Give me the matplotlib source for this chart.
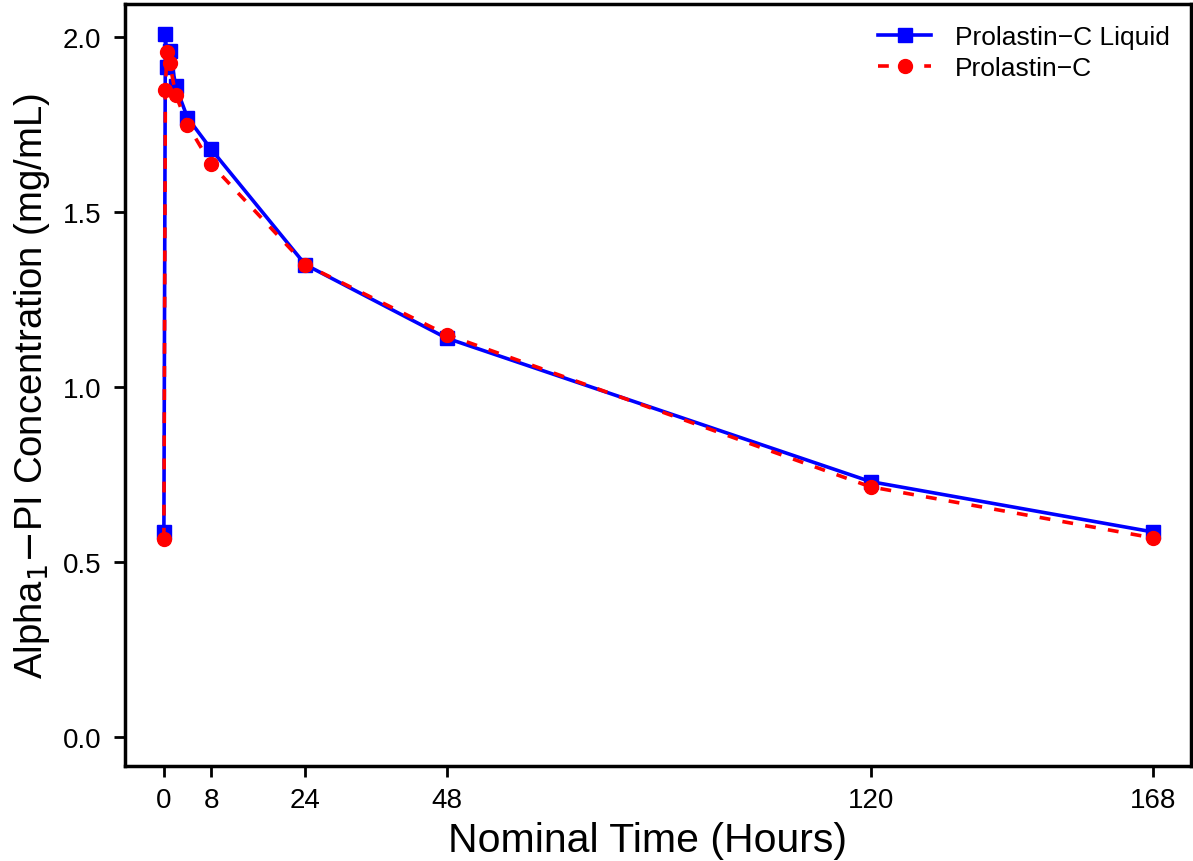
import matplotlib
matplotlib.use("Agg")
import matplotlib.pyplot as plt

# nominal sampling times (hours)
hours = [0, 0.25, 0.5, 1, 2, 4, 8, 24, 48, 120, 168]
liquid = [0.585, 2.01, 1.915, 1.96, 1.86, 1.77, 1.68, 1.35, 1.14, 0.73, 0.586]
lyoph = [0.567, 1.85, 1.956, 1.925, 1.835, 1.75, 1.637, 1.35, 1.15, 0.715, 0.569]
xticks = [0, 8, 24, 48, 120, 168]
yticks = [0.0, 0.5, 1.0, 1.5, 2.0]

plt.rcParams["font.family"] = ["Liberation Sans", "DejaVu Sans"]

fig = plt.figure(figsize=(11.93, 8.62), dpi=100)
ax = fig.add_axes([0.1048, 0.110, 0.8935, 0.884])

ax.plot(hours, liquid, color="blue", lw=2.6, marker="s", ms=10,
        label="Prolastin\u2212C Liquid")
ax.plot(hours, lyoph, color="red", lw=2.6, ls=(0, (3.0, 3.4)), marker="o", ms=10,
        label="Prolastin\u2212C")

ax.set_xlim(-6.6, 174.4)
ax.set_ylim(-0.083, 2.094)
ax.set_xticks(xticks)
ax.set_yticks(yticks, [f"{v:.1f}" for v in yticks])
ax.tick_params(direction="out", length=8, width=2, labelsize=20, pad=7)
ax.tick_params(axis="y", pad=9)
for s in ax.spines.values():
    s.set_linewidth(2.5)

ax.set_xlabel("Nominal Time (Hours)", fontsize=29.5, labelpad=6, x=0.49)
ax.set_ylabel(r"Alpha$_1$$-$PI Concentration (mg/mL)", fontsize=27.5, labelpad=8)

ax.legend(loc="upper right", frameon=False, fontsize=19, handlelength=2.0,
          handletextpad=0.9, borderaxespad=0.4, labelspacing=0.25)

fig.savefig("out.png", dpi=100)
